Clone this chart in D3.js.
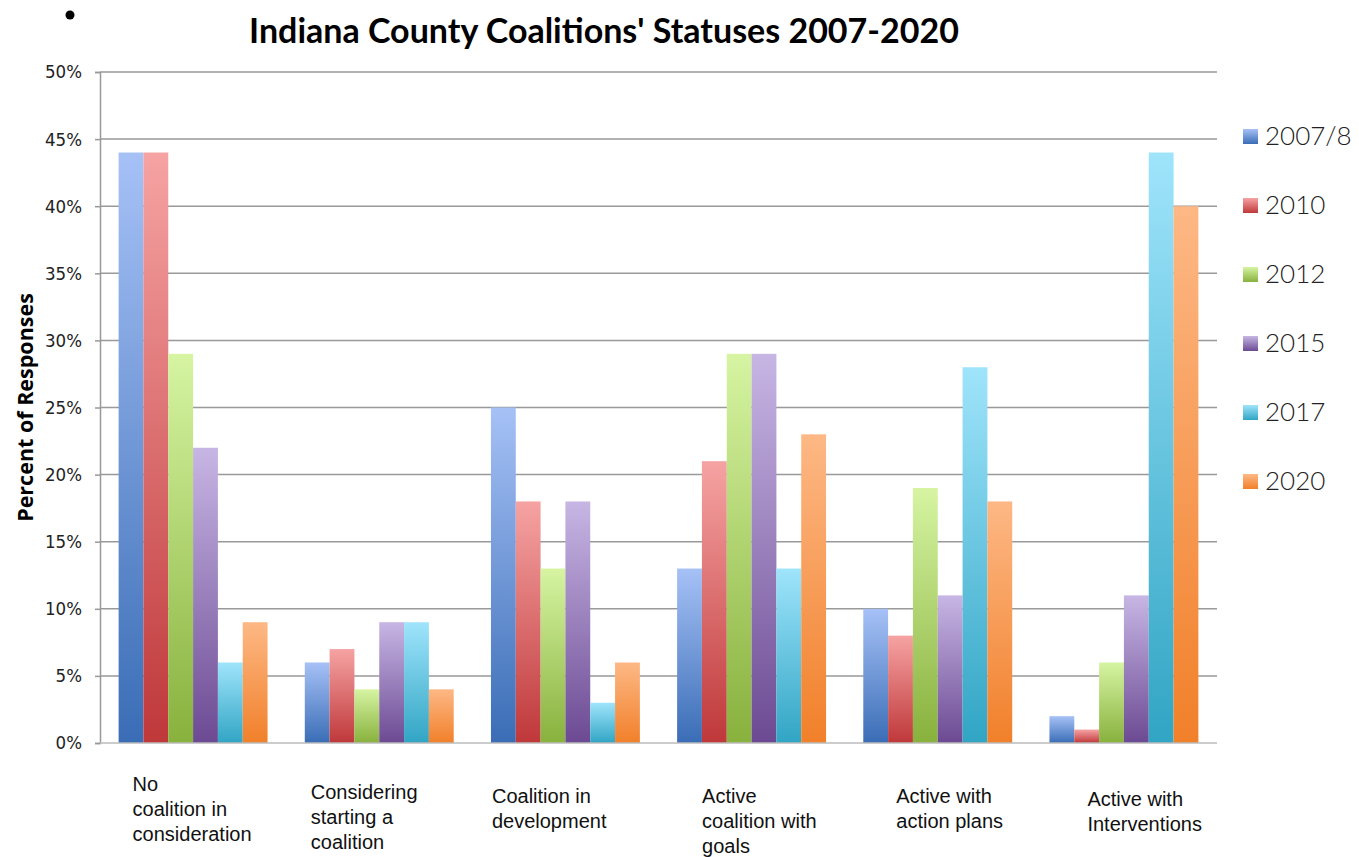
<!doctype html>
<html>
<head>
<meta charset="utf-8">
<title>Indiana County Coalitions' Statuses 2007-2020</title>
<style>
  body { margin:0; background:#fff; }
  svg { display:block; }
  .title { font-family:"Lato", "DejaVu Sans", sans-serif; font-weight:bold; font-size:34px; }
  .ytick text { font-family:"DejaVu Sans Condensed", "DejaVu Sans", sans-serif; font-size:18.5px; fill:#222; }
  .ylabel { font-family:"Open Sans", sans-serif; font-weight:bold; font-size:21.5px; }
  .xlab { font-family:"Liberation Sans", Arial, sans-serif; font-size:20px; fill:#111; }
  .legend text { font-family:"Lato", "DejaVu Sans", sans-serif; font-weight:300; font-size:26px; fill:#222; }
  .grid line { stroke:#999; stroke-width:1.5px; }
</style>
<script src="https://cdn.jsdelivr.net/npm/d3@7"></script>
</head>
<body>
<svg id="chart" width="1359" height="857"></svg>
<script>

// data
var categories = ["No coalition in consideration", "Considering starting a coalition",
                  "Coalition in development", "Active coalition with goals",
                  "Active with action plans", "Active with Interventions"]
// wrapped lines as in the original labels
var catLines = [["No", "coalition in", "consideration"],
                ["Considering", "starting a", "coalition"],
                ["Coalition in", "development"],
                ["Active", "coalition with", "goals"],
                ["Active with", "action plans"],
                ["Active with", "Interventions"]]
var years = ["2007/8", "2010", "2012", "2015", "2017", "2020"]
var v2007 = [44, 6, 25, 13, 10, 2]
var v2010 = [44, 7, 18, 21, 8, 1]
var v2012 = [29, 4, 13, 29, 19, 6]
var v2015 = [22, 9, 18, 29, 11, 11]
var v2017 = [6, 9, 3, 13, 28, 44]
var v2020 = [9, 4, 6, 23, 18, 40]
var yTicks = [0, 5, 10, 15, 20, 25, 30, 35, 40, 45, 50]

var series = [v2007, v2010, v2012, v2015, v2017, v2020]
var colTop = ["#a6c1f6", "#f6a3a3", "#d6f4a2", "#c7b6e4", "#9fe4fb", "#fdb885"]
var colBot = ["#3a6db6", "#bf383a", "#88b13d", "#6c4a93", "#31a5c4", "#f1802a"]

var svg = d3.select("#chart")
var pLeft = 100, pRight = 1217, pTop = 72, pBottom = 743

var x0 = d3.scaleBand().domain(categories).range([pLeft, pRight]).paddingInner(0.2).paddingOuter(0.1)
var x1 = d3.scaleBand().domain(years).range([0, x0.bandwidth()])
var y = d3.scaleLinear().domain([0, 50]).range([pBottom, pTop])

// gradients, light on top, dark at the bottom
var defs = svg.append("defs")
years.forEach(function(yr, i) {
  var g = defs.append("linearGradient").attr("id", "g" + i)
    .attr("x1", 0).attr("y1", 0).attr("x2", 0).attr("y2", 1)
  g.append("stop").attr("offset", "0%").attr("stop-color", colTop[i])
  g.append("stop").attr("offset", "100%").attr("stop-color", colBot[i])
})

// title and the stray bullet
svg.append("circle").attr("cx", 70).attr("cy", 15).attr("r", 4.5).attr("fill", "#000")
svg.append("text").attr("class", "title").attr("x", 604).attr("y", 43)
   .attr("text-anchor", "middle").text("Indiana County Coalitions' Statuses 2007-2020")

// grid
svg.append("g").attr("class", "grid")
   .selectAll("line").data(yTicks.slice(1)).enter().append("line")
   .attr("x1", pLeft).attr("x2", pRight)
   .attr("y1", function(d){ return y(d) }).attr("y2", function(d){ return y(d) })

// y axis
var yAxis = svg.append("g").attr("class", "ytick")
   .attr("transform", "translate(" + pLeft + ",0)")
   .call(d3.axisLeft(y).tickValues(yTicks).tickSize(5).tickPadding(13)
         .tickFormat(function(d){ return d + "%" }))
yAxis.select(".domain").attr("stroke", "#999").attr("stroke-width", 1.5)
yAxis.selectAll(".tick line").attr("stroke", "#999").attr("stroke-width", 1.5)

svg.append("text").attr("class", "ylabel")
   .attr("transform", "translate(33," + ((pTop + pBottom) / 2) + ") rotate(-90)")
   .attr("text-anchor", "middle").text("Percent of Responses")

// bars
var groups = svg.append("g").selectAll("g").data(categories).enter().append("g")
   .attr("transform", function(d){ return "translate(" + x0(d) + ",0)" })

groups.selectAll("rect")
   .data(function(d, ci){ return years.map(function(yr, si){ return {yr:yr, si:si, v:series[si][ci]} }) })
   .enter().append("rect")
   .attr("x", function(d){ return x1(d.yr) })
   .attr("width", x1.bandwidth())
   .attr("y", function(d){ return y(d.v) })
   .attr("height", function(d){ return y(0) - y(d.v) })
   .attr("fill", function(d){ return "url(#g" + d.si + ")" })

// x baseline
svg.append("line").attr("x1", pLeft).attr("x2", pRight).attr("y1", pBottom).attr("y2", pBottom)
   .attr("stroke", "#bbb").attr("stroke-width", 1.5)

// category labels
var labY = [785, 793, 797, 797, 797, 800]
var labDx = [14, 6, 1, 25, 33, 38]
categories.forEach(function(c, i) {
  var t = svg.append("text").attr("class", "xlab")
     .attr("x", x0(c) + labDx[i]).attr("y", labY[i] + 6)
  catLines[i].forEach(function(line, k) {
    t.append("tspan").attr("x", x0(c) + labDx[i]).attr("dy", k ? 25 : 0).text(line)
  })
})

// legend
var leg = svg.append("g").attr("class", "legend")
   .selectAll("g").data(years).enter().append("g")
   .attr("transform", function(d, i){ return "translate(1243," + (136 + i * 69) + ")" })
leg.append("rect").attr("x", 0).attr("y", -7).attr("width", 15).attr("height", 15)
   .attr("fill", function(d, i){ return "url(#g" + i + ")" })
leg.append("text").attr("x", 22).attr("y", 9).text(function(d){ return d })

</script>
</body>
</html>
